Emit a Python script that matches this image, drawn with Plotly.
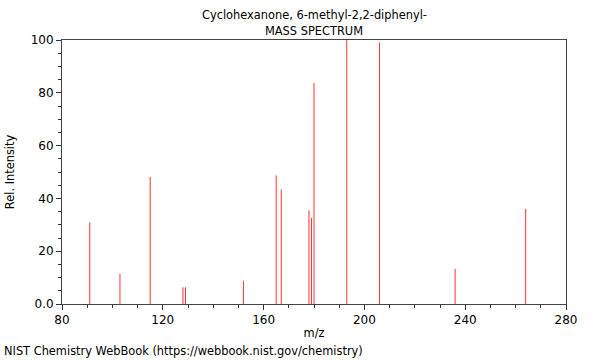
import plotly.graph_objects as go

mz = [91, 103, 115, 128, 129, 152, 165, 167, 178, 179, 180, 193, 206, 236, 264]
intensity = [30.9, 11.4, 48.1, 6.3, 6.3, 8.8, 48.7, 43.4, 35.5, 32.6, 83.7, 100.0, 99.1, 13.3, 36.0]

xs, ys = [], []
for m, v in zip(mz, intensity):
    xs += [m, m, None]
    ys += [0, v, None]

fig = go.Figure(go.Scatter(x=xs, y=ys, mode="lines",
                           line=dict(color="#ff3333", width=1),
                           hoverinfo="skip", showlegend=False))

font = "DejaVu Sans, sans-serif"
fig.update_layout(
    width=600, height=360,
    margin=dict(l=62, r=34, t=40, b=56),
    paper_bgcolor="white", plot_bgcolor="white",
    font=dict(family=font, size=12, color="black"),
    annotations=[
        dict(text="Cyclohexanone, 6-methyl-2,2-diphenyl-", xref="paper", yref="paper",
             x=0.5, y=1, yshift=34, showarrow=False, font=dict(size=11.4)),
        dict(text="MASS SPECTRUM", xref="paper", yref="paper",
             x=0.5, y=1, yshift=18, showarrow=False, font=dict(size=11.4)),
        dict(text="NIST Chemistry WebBook (https://webbook.nist.gov/chemistry)",
             xref="paper", yref="paper", x=0, xshift=-60, y=0, yshift=-56,
             xanchor="left", showarrow=False, font=dict(size=11.4)),
    ],
)
fig.update_xaxes(range=[80, 280], tickvals=[80, 120, 160, 200, 240, 280],
                 ticks="outside", ticklen=5, tickcolor="#333", showgrid=False,
                 zeroline=False, showline=True, linecolor="#444", linewidth=1, mirror=True,
                 minor=dict(dtick=10, ticks="outside", ticklen=3, tickcolor="#333"),
                 automargin=False,
                 title=dict(text="m/z", font=dict(size=11.4), standoff=2))
fig.update_yaxes(range=[0, 100], tickvals=[0, 20, 40, 60, 80, 100],
                 ticktext=["0.0", "20", "40", "60", "80", "100"],
                 ticks="outside", ticklen=5, tickcolor="#333", showgrid=False,
                 zeroline=False, showline=True, linecolor="#444", linewidth=1, mirror=True,
                 minor=dict(dtick=5, ticks="outside", ticklen=3, tickcolor="#333"),
                 automargin=False,
                 title=dict(text="Rel. Intensity", font=dict(size=11.4), standoff=13))

fig.write_html("out.html", config={"displayModeBar": False},
               post_script="document.body.style.margin='0';")
